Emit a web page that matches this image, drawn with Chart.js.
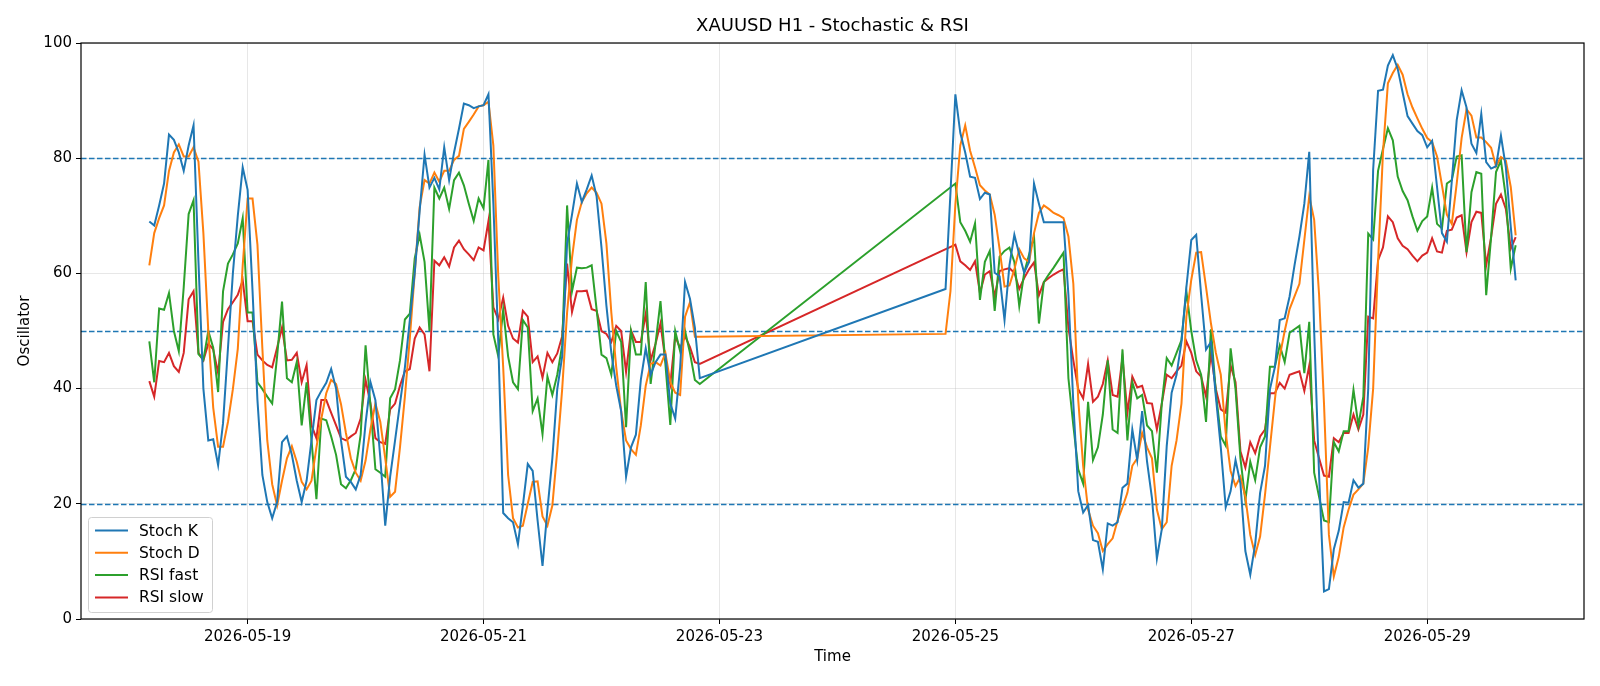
<!DOCTYPE html>
<html><head><meta charset="utf-8">
<script src="https://cdn.jsdelivr.net/npm/chart.js@4"></script>
<style>html,body{margin:0;padding:0;background:#fff}</style>
</head><body>
<canvas id="c" width="1600" height="686"></canvas>
<script>
// hours since 2026-05-18 00:00
const seg1Start = 4;
const seg2StartStoch = 166;
const seg2StartRsi = 168;
const tickHours = [24, 72, 120, 168, 216, 264];
const tickLabels = ['2026-05-19','2026-05-21','2026-05-23','2026-05-25','2026-05-27','2026-05-29'];
const levels = [20, 50, 80];

const stochK1 = [69,68.3,71.8,75.6,84.1,83.2,81,77.8,82.2,85.7,62,40,31,31.2,26.7,34,47,60,70,78.4,74.5,57,38,25,20.3,17.5,20.3,30.7,31.7,28.5,24,20.3,24,31,38,39.6,41,43.4,40,31,24.7,23.8,22.5,25,34,
41.1,38,28,16.2,24.7,31,37.4,43.7,51.9,60.1,70.8,80.6,74.9,76.6,74.6,81.9,76.2,81,85.1,89.5,89.2,88.7,89,89.2,91.1,72.1,48.1,18.4,17.5,16.8,13,19.7,26.9,25.7,17.1,9.2,19,27.9,39.9,45.6,65.2,70.2,75.6,72.4,74.6,77,
73.4,64.5,54.4,46.2,40.5,36.1,24.7,29.8,32,41.5,47,42.4,44.6,45.9,45.9,37.4,34.8,43.7,58.5,55.6,50.6,41.8];
const stochK2 = [57.3,74,91.1,84.4,81,76.8,76.6,72.9,74,73.7,60.1,59.5,51.9,61.4,66.7,63.3,60.1,62,75.6,72.1,68.9,68.9,68.9,68.9,68.9,56.3,37.4,22.2,18.5,19.8,13.7,13.4,8.6,16.6,16.2,16.8,22.8,23.5,32.9,27.6,36.1,27.3,
21,10.5,15.6,30,39.3,42.4,48.1,57.6,65.8,66.7,56.3,46.8,48.1,38.6,29.8,19.4,22.2,27.6,23.5,11.8,7.7,13,21.9,26.6,39.9,43.7,51.9,52.2,56,61.4,66.4,72.1,81.1,50,25,4.8,5.2,12.1,15.3,20.3,20.2,24.1,22.8,23.5,40,78,
91.7,91.9,96.1,97.9,95.5,91.4,87.3,86,84.7,84,81.9,83,75,67,65.5,76,86.6,91.8,88.8,82.5,80.9,87.7,79.3,78.2,78.6,83.9,78.4,68.1,58.8];
const stochD1 = [61.4,67,69.6,71.8,77.8,81,82.4,80.3,80.3,81.9,79.4,67,50,36.7,29.9,29.9,34.2,39.9,46.9,61.4,73,73,65,47,31,23.4,19.7,24,27.9,30,27.3,23.8,22.5,24,29.8,34.8,39.2,41.5,40.8,37.3,32.3,27.9,25.4,24,27.5,
33,37.4,34.2,27.9,21.2,22.1,29.8,38.6,48.7,60.1,71.5,76.2,75.6,77.5,75.9,77.8,77.8,79.7,80.4,85.1,86.3,87.6,89,89.2,89.8,82.2,59.5,43.7,25,17.5,15.9,16.2,20,23.8,23.9,17.8,16.2,19.7,29.2,39.9,53.2,62.7,69.3,72.4,73.9,74.9,
74,72.1,65.2,53.2,43.7,36.1,31,29.5,28.5,33.6,40.5,44.3,44.6,44,46.2,41.1,39.3,38.9,52.5,55,49,49];
const stochD2 = [49.5,56.9,72,82.2,85.7,81.3,78.4,75.3,74.4,73.7,70.2,64.2,57.7,57.9,60.7,64.2,62.6,62,67,70.5,71.8,71.2,70.5,70.1,69.6,66.4,58.2,38,26.6,19,16.2,14.9,11.8,13,14,17.1,19.4,21.9,26.6,27.9,32.3,29.8,
27.9,19,15.6,16.8,26.6,31,37.4,52.5,58.9,63.6,63.7,57.6,51.3,46.2,42.4,32.3,25.7,23.1,24.7,21.2,14.6,11.1,14.3,21.6,29.8,38,45.6,50,53.8,56,58.2,65.8,73.4,69.3,56.3,37.4,14.6,7.4,10.8,15.9,19,21.6,22.5,23.5,29.8,40,
62,81,93,94.8,96.2,94.5,91.1,88.8,86.9,85.1,83.5,82.8,80.3,75.3,70.2,68.6,75.6,83.5,88.5,87.4,83.6,83.6,82.8,81.8,78.6,80.2,79.6,75,66.6];
const rsiFast1 = [48.2,41.1,53.9,53.7,56.6,50,46.5,57.6,70.3,72.7,46,45,50,47.1,39.4,56.9,61.7,63.3,65.2,69.6,53.2,53.2,41.1,39.9,38.6,37.4,45.6,55.1,41.8,41.1,44.6,33.6,41.1,31,20.8,34.8,34.5,31.7,28.5,23.4,22.7,24.1,26,32,47.5,
37,26,25.4,24.7,38.3,39.9,44.9,52,53,62.6,66.7,62,50,74.9,73,74.9,71.2,76.2,77.5,75.3,72.1,69.1,73,71.3,79.7,49.4,45.6,53.7,45.6,41.1,39.9,51.9,50.6,36.1,38.3,32.1,42.1,38.9,42.4,47.5,71.8,56.9,61,60.9,61,61.4,
53.8,45.9,45.3,42.4,50,48.1,33.3,50,45.9,45.9,58.5,40.8,47.8,55.2,44.3,33.7,50,46.5,50,46.2,41.5,40.8];
const rsiFast2 = [75.6,68.9,67.4,65.5,68.7,55.4,62,63.9,53.5,62.9,63.9,64.5,62,54.3,60.1,63.3,66.4,51.3,58.5,59.8,61,62.3,63.6,41.8,33.6,26,23.5,37.7,27.6,29.8,35.5,44.9,32.9,32.3,46.8,31,41.1,38.3,38.9,33.6,
32.6,25.4,37.4,45.3,44,46.2,48.4,56.9,50,44.9,42.4,34.2,50.3,39.3,31.7,30.1,47,39.9,27.9,20.6,27.3,24.1,29.8,31.7,43.8,43.8,47.5,44.6,49.7,50.3,50.9,42.7,51.6,25.4,21.2,17.1,16.8,30.7,29.1,32.6,32.6,39.8,33.6,38.6,66.9,65.9,
77.8,81.6,85.2,83.1,76.8,74.3,72.7,69.9,67.4,69.1,69.9,74.9,68.6,67.8,75.6,76.2,80.3,80.5,63.7,74.1,77.6,77.3,56.2,66.3,77.6,79.6,73.2,60.8,64.9];
const rsiSlow1 = [41.3,38.6,44.8,44.6,46.2,43.9,42.9,46.2,55.5,56.9,46.2,44.9,47.8,46.8,42.7,51.6,53.8,55,56.3,58.8,51.7,51.7,45.9,44.9,44.1,43.7,47.1,50.6,44.9,45,46.2,41.1,44.1,33.6,31.4,38,38,35.8,33.6,31.4,31,31.7,32.3,34.8,41.5,
37.4,31.4,30.7,30.4,36.4,37.4,40.5,43,43.4,48.7,50.6,49.4,43,62.2,61.4,62.8,61.2,64.5,65.7,64.2,63.3,62.3,64.5,64,69.1,54.1,52,55.8,50.9,48.7,48,53.5,52.5,44.6,45.6,41.9,46.2,44.6,46.1,49.1,61.7,53.3,56.9,56.9,57,53.8,
53.5,50,49.5,48.1,50.9,50,42.9,50.1,48.1,48.1,53,44.9,47.8,51.3,44.9,40.8,49.1,47,49.1,47.2,44.6,44.3];
const rsiSlow2 = [65,62.1,61.4,60.6,62.1,56.6,59.8,60.4,56,60.4,60.7,60.9,60.1,57.3,59.2,60.7,61.9,56.2,58.5,59.2,59.8,60.3,60.7,50.6,44.9,39.9,38.3,44.3,37.7,38.6,40.8,44.9,38.9,38.6,45.4,35.8,42.1,40.2,40.5,37.5,
37.4,32.9,37.4,42.4,41.8,43,44,48.2,46.2,43,42.1,38.6,46.1,39.9,36.4,35.8,44,41.1,29.1,26.3,30.7,28.8,31.7,32.9,39.2,39.2,41,40,42.4,42.7,43,39.6,44,31,27.9,24.9,24.7,31.4,30.7,32.3,32.3,35.5,32.9,35.5,52.5,52.2,
62.3,64.5,69.9,68.9,66.1,64.8,64.2,63.1,62.1,63.1,63.6,66.1,63.8,63.6,67.4,67.6,69.7,70.1,63.7,68.9,70.7,70.5,61.4,66.3,72.1,73.7,71.2,64.3,66.3];

function pts(a, s1, b, s2) {
  const out = [];
  a.forEach((v, i) => out.push({x: s1 + i, y: v}));
  b.forEach((v, i) => out.push({x: s2 + i, y: v}));
  return out;
}
const lastHour = seg2StartStoch + stochK2.length - 1;
const span = lastHour - seg1Start;
const xMin = seg1Start - 0.05 * span, xMax = lastHour + 0.05 * span;

const series = [
  {label:'Stoch K', color:'#1f77b4', data: pts(stochK1, seg1Start, stochK2, seg2StartStoch)},
  {label:'Stoch D', color:'#ff7f0e', data: pts(stochD1, seg1Start, stochD2, seg2StartStoch)},
  {label:'RSI fast', color:'#2ca02c', data: pts(rsiFast1, seg1Start, rsiFast2, seg2StartRsi)},
  {label:'RSI slow', color:'#d62728', data: pts(rsiSlow1, seg1Start, rsiSlow2, seg2StartRsi)},
];
const FONT = 'DejaVu Sans';

const deco = {
  id: 'deco',
  beforeDatasetsDraw(chart) {
    const {ctx, chartArea: a, scales: {y}} = chart;
    ctx.save();
    ctx.strokeStyle = '#1f77b4'; ctx.lineWidth = 1.5; ctx.setLineDash([5.5, 2.5]);
    levels.forEach(l => {
      const py = Math.round(y.getPixelForValue(l)) + 0.5;
      ctx.beginPath(); ctx.moveTo(a.left, py); ctx.lineTo(a.right, py); ctx.stroke();
    });
    ctx.restore();
  },
  afterDraw(chart) {
    const {ctx, chartArea: a} = chart;
    ctx.save();
    ctx.strokeStyle = '#000'; ctx.lineWidth = 1.2;
    ctx.strokeRect(a.left, a.top, a.right - a.left, a.bottom - a.top);
    ctx.fillStyle = '#000'; ctx.textAlign = 'center'; ctx.textBaseline = 'middle';
    ctx.font = `18px "${FONT}"`;
    ctx.fillText('XAUUSD H1 - Stochastic & RSI', (a.left + a.right) / 2, 26);
    ctx.font = `15px "${FONT}"`;
    ctx.fillText('Time', (a.left + a.right) / 2, 657);
    ctx.save();
    ctx.translate(25, (a.top + a.bottom) / 2); ctx.rotate(-Math.PI / 2);
    ctx.fillText('Oscillator', 0, 0);
    ctx.restore();
    // legend
    const bx = 88, by = 517, bw = 124, bh = 95;
    ctx.fillStyle = 'rgba(255,255,255,0.8)';
    ctx.strokeStyle = '#d0d0d0'; ctx.lineWidth = 1;
    ctx.beginPath(); ctx.roundRect(bx + 0.5, by + 0.5, bw, bh, 3); ctx.fill(); ctx.stroke();
    ctx.font = `15.5px "${FONT}"`; ctx.textAlign = 'left';
    series.forEach((s, i) => {
      const yy = by + 13.5 + i * 22.3;
      ctx.strokeStyle = s.color; ctx.lineWidth = 2;
      ctx.beginPath(); ctx.moveTo(bx + 7, yy); ctx.lineTo(bx + 40, yy); ctx.stroke();
      ctx.fillStyle = '#000'; ctx.fillText(s.label, bx + 51, yy + 1);
    });
    ctx.restore();
  }
};

new Chart(document.getElementById('c'), {
  type: 'line',
  data: { datasets: series.map(s => ({label: s.label, data: s.data, borderColor: s.color, backgroundColor: s.color,
    borderWidth: 2, pointRadius: 0, tension: 0, fill: false})) },
  options: {
    responsive: false, animation: false, devicePixelRatio: 1,
    layout: {padding: {left: 0, top: 43, right: 16, bottom: 0}},
    plugins: {legend: {display: false}, title: {display: false}, tooltip: {enabled: false}},
    scales: {
      x: {
        type: 'linear', min: xMin, max: xMax,
        afterBuildTicks(ax) { ax.ticks = tickHours.map(v => ({value: v})); },
        afterFit(ax) { ax.height = 67; },
        ticks: {callback: (v) => tickLabels[tickHours.indexOf(v)], color: '#000', font: {family: FONT, size: 15}, maxRotation: 0, autoSkip: false, padding: 4},
        grid: {color: 'rgba(176,176,176,0.3)', tickColor: '#000', tickLength: 5, lineWidth: 1},
        border: {display: false}
      },
      y: {
        min: 0, max: 100,
        afterFit(ax) { ax.width = 81; },
        ticks: {stepSize: 20, color: '#000', font: {family: FONT, size: 15}, padding: 4},
        grid: {color: 'rgba(176,176,176,0.3)', tickColor: '#000', tickLength: 5, lineWidth: 1},
        border: {display: false}
      }
    }
  },
  plugins: [deco]
});
</script>
</body></html>
